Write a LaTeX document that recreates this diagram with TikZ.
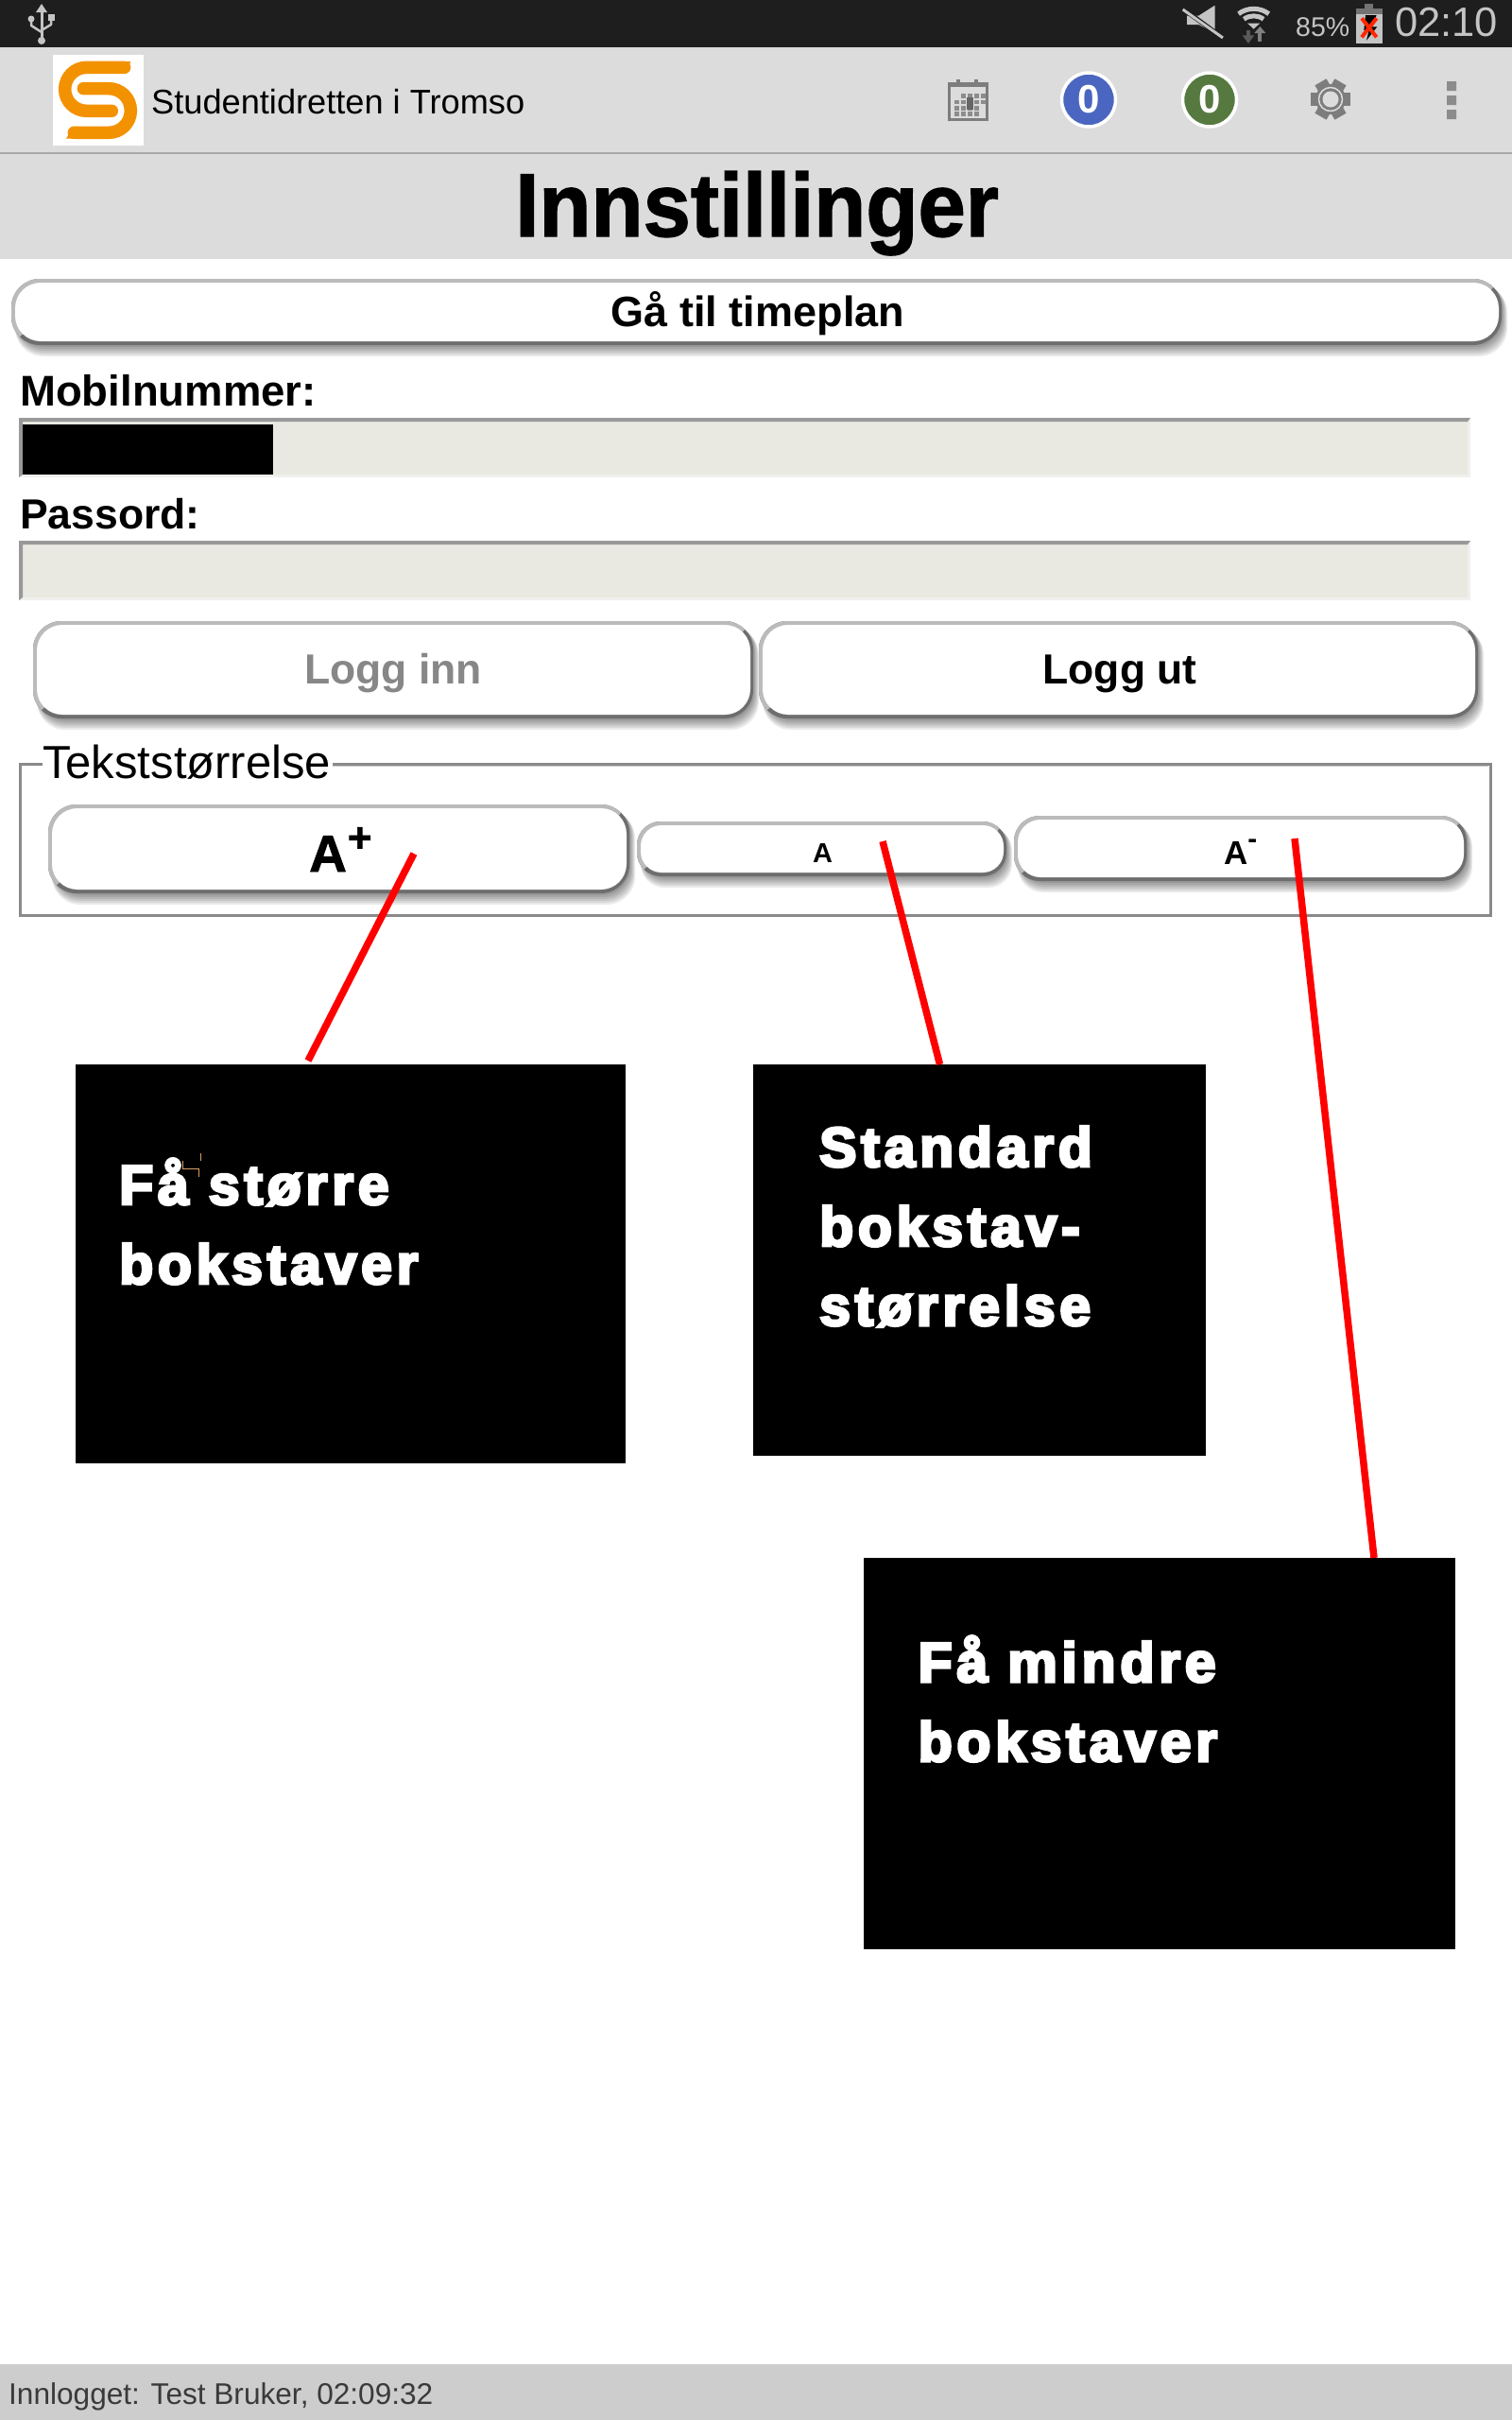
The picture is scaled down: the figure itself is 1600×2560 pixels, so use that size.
\documentclass[tikz,border=0pt]{standalone}
\usepackage{fontspec}
\setmainfont{Liberation Sans}
\newfontfamily\blk[BoldFeatures={FakeBold=5,LetterSpace=8}]{Liberation Sans}
\newfontfamily\uib[BoldFeatures={FakeBold=1.5}]{Liberation Sans}
\usepackage{graphicx}
\definecolor{statusbg}{HTML}{1E1E1E}
\definecolor{barbg}{HTML}{DCDCDC}
\definecolor{barline}{HTML}{A8A8A8}
\definecolor{iconlight}{HTML}{C4C4C4}
\definecolor{icongray}{HTML}{7D7D7D}
\definecolor{inputbg}{HTML}{E9E9E1}
\definecolor{inputtop}{HTML}{999999}
\definecolor{inputedge}{HTML}{F0F0EE}
\definecolor{btnlight}{HTML}{BBBBBB}
\definecolor{btndark}{HTML}{6E6E6E}
\definecolor{logoorange}{HTML}{F39200}
\definecolor{footbg}{HTML}{CDCDCD}
\definecolor{foottxt}{HTML}{3A3A3A}
\definecolor{badgeblue}{HTML}{4A66C0}
\definecolor{badgegreen}{HTML}{55793F}
\definecolor{fieldline}{HTML}{8A8A8A}
\newcommand{\fsz}[1]{\fontsize{#1}{#1}\selectfont}
\newcommand{\uibtn}[5]{%
  \foreach \d in {1,...,6}{\fill[black,opacity=.08,rounded corners=#5pt] ({#1+4},{#2+\d}) rectangle ({#3+\d},{#4+2*\d});}
  \fill[btndark,rounded corners=#5pt] (#1,#2) rectangle (#3,#4);
  \begin{scope}
    \clip (#1,#2) -- (#3,#2) -- ({#3-#5},{#2+#5}) -- ({#1+#5},{#4-#5}) -- (#1,#4) -- cycle;
    \fill[btnlight,rounded corners=#5pt] (#1,#2) rectangle (#3,#4);
  \end{scope}
  \fill[white,rounded corners={#5pt-3pt}] ({#1+4},{#2+4}) rectangle ({#3-3},{#4-4});
}
\tikzset{
  lbl/.style={inner sep=0pt,anchor=base west},
  clbl/.style={inner sep=0pt,anchor=base},
  redline/.style={draw=red,line width=7.5pt},
  blackbox/.style={fill=black,draw=none,inner sep=0pt,anchor=north west},
  boxtxt/.style={lbl,text=white,font=\blk\bfseries\fsz{59}},
}
\begin{document}
\begin{tikzpicture}[x=1pt,y=-1pt]
\useasboundingbox (0,0) rectangle (1600,2560);
\fill[white] (0,0) rectangle (1600,2560);
% bars
\fill[statusbg] (0,0) rectangle (1600,50);
\fill[barbg] (0,50) rectangle (1600,274);
\fill[barline] (0,161) rectangle (1600,163);
% USB icon
\begin{scope}[iconlight]
  \fill (38,13) -- (50,13) -- (44,4) -- cycle;
  \draw[line width=3pt] (44,12) -- (44,42);
  \fill (44,43) circle (4);
  \fill (33,20) circle (3.5);
  \draw[line width=2.5pt,line join=round] (33,20) -- (33,27) -- (44,34);
  \fill (50.5,15) rectangle (58,22);
  \draw[line width=2.5pt,line join=round] (54,20) -- (54,26) -- (44,32);
\end{scope}
% status right
\begin{scope}[xshift=1240pt,x=.3333pt,y=-.3333pt]
  \fill[iconlight] (137,17) -- (137,105) -- (85,78) -- (48,78) -- (48,50) -- (85,50) -- cycle;
  \draw[statusbg,line width=5pt] (25,20) -- (150,112);
  \draw[iconlight,line width=3pt] (35,30) -- (162,120);
  \foreach \r/\w in {68/5,44/5}{
    \draw[iconlight,line width=\w pt] ({260-\r*.707},{92-\r*.707}) .. controls ({260-\r*.3},{92-\r*1.02}) and ({260+\r*.3},{92-\r*1.02}) .. ({260+\r*.707},{92-\r*.707});
  }
  \fill[iconlight] (245,78) -- (275,78) -- (260,92) -- cycle;
  \fill[iconlight] (240,74) -- (280,74) -- (275,78) -- (245,78) -- cycle;
  \fill[black!65] (224,112) -- (262,112) -- (243,138) -- cycle;
  \fill[black!65] (237,95) rectangle (249,114);
  \fill[black!50] (262,105) -- (298,105) -- (280,84) -- cycle;
  \fill[black!50] (274,104) rectangle (286,132);
  \fill[iconlight] (585,45) rectangle (668,137);
  \fill[black!55] (585,27) rectangle (668,45);
  \fill[black!55] (612,13) rectangle (640,27);
  \fill[black] (615,48) -- (650,48) -- (636,85) -- (652,85) -- (618,128) -- (626,96) -- (610,96) -- cycle;
  \draw[red!70!orange,line width=4pt] (603,58) -- (650,118) (650,58) -- (603,118);
\end{scope}
\node[lbl,text=iconlight,font=\fsz{28.5}] (batt) at (1371,38) {85\%};
\node[lbl,text=iconlight,font=\fsz{43.5}] (clock) at (1476,38) {02:10};
% logo
\fill[white] (56,58) rectangle (152,154);
\begin{scope}[xshift=50pt,yshift=-55pt,x=.3333pt,y=-.3333pt]
  \draw[logoorange,line width=13.5pt,line cap=round] (245,49) -- (125,49) .. controls (87,49) and (56,80) .. (56,118) .. controls (56,156) and (87,187) .. (125,187) -- (205,187);
  \fill[logoorange] (235,30) -- (265,30) -- (250,68) -- (235,68) -- cycle;
  \draw[logoorange,line width=13.5pt,line cap=round] (115,116) -- (195,116) .. controls (234,116) and (265,147) .. (265,186) .. controls (265,225) and (234,256) .. (195,256) -- (85,256);
  \fill[logoorange] (82,237) -- (100,237) -- (100,275) -- (60,275) -- cycle;
\end{scope}
\node[lbl,font=\fsz{36.2}] (app) at (160,120) {Studentidretten i Tromso};
% action icons
\draw[icongray,line width=3pt] (1004.5,90) rectangle (1044.5,126);
\fill[icongray] (1003,87) rectangle (1046,92);
\fill[icongray] (1012,84) rectangle (1016,92);
\fill[icongray] (1031,84) rectangle (1035,92);
\foreach \cx in {1010,1017,1024,1031,1038}{\foreach \cy in {99,105.5,112,118}{
  \fill[black!45] (\cx,\cy) rectangle ++(4.5,4.5);}}
\fill[black!60] (1023,103) rectangle (1030,116);
\fill[barbg] (1008,98) rectangle (1015,104);
\fill[barbg] (1037,112) rectangle (1044,124);
\draw[icongray,line width=3pt] (1004.5,90) rectangle (1044.5,126);
\node[circle,fill=badgeblue,draw=white,line width=3.5pt,minimum size=57pt,inner sep=0pt,text=white,font=\bfseries\fsz{42}] (bdg1) at (1152,105.5) {0};
\node[circle,fill=badgegreen,draw=white,line width=3.5pt,minimum size=57pt,inner sep=0pt,text=white,font=\bfseries\fsz{42}] (bdg2) at (1280,105.5) {0};
\fill[icongray] (1408,105) circle (16);
\foreach \a in {30,90,150,210,270,330}{
  \fill[icongray,rotate around={\a:(1408,105)}] (1401,105) rectangle (1415,84);
}
\draw[barbg,line width=1.5pt] (1408,105) circle (12.5);
\fill[barbg] (1408,105) circle (8.5);
\fill[black!45] (1531,86) rectangle (1541,96) (1531,101) rectangle (1541,111) (1531,116) rectangle (1541,126);
% title
\node[clbl,font=\uib\bfseries\fsz{95}] (title) at (801,250) {\scalebox{.95}[1]{Innstillinger}};
% schedule button
\uibtn{12}{295}{1589}{365}{30}
\node[clbl,font=\bfseries\fsz{45}] (plan) at (802,345) {Gå til timeplan};
% inputs
\node[lbl,font=\bfseries\fsz{45.5}] (mob) at (21,429) {Mobilnummer:};
\foreach \yy in {442,572}{
  \fill[inputedge] (20,\yy) rectangle (1556,{\yy+63});
  \fill[inputbg] (24,{\yy+4}) rectangle (1553,{\yy+60});
  \fill[inputtop] (20,\yy) -- (1556,\yy) -- (1553,{\yy+4}) -- (24,{\yy+4}) -- (24,{\yy+60}) -- (20,{\yy+63}) -- cycle;
}
\fill[black] (24,449) rectangle (289,502);
\node[lbl,font=\bfseries\fsz{44.5}] (pwd) at (21,559) {Passord:};
% login buttons
\uibtn{35}{657}{797}{760}{30}
\node[clbl,text=black!47,font=\bfseries\fsz{44.5}] (login) at (416,723) {Logg inn};
\uibtn{803}{657}{1564}{760}{30}
\node[clbl,font=\bfseries\fsz{44.5}] (logout) at (1185,723) {Logg ut};
% fieldset
\draw[fieldline,line width=3pt] (45,808) -- (21,808) -- (21,968) -- (1577,968) -- (1577,808) -- (352,808);
\draw[black!20,line width=1.5pt] (352,810.5) -- (1575,810.5);
\node[lbl,font=\fsz{49}] (legend) at (45,823) {Tekststørrelse};
% size buttons
\uibtn{51}{851}{666}{945}{30}
\node[lbl,font=\uib\bfseries\fsz{55}] (aplus) at (327,922) {A\kern1pt\raisebox{21pt}{\fsz{44}+}};
\uibtn{674}{869}{1065}{927}{25}
\node[lbl,font=\bfseries\fsz{29}] (anorm) at (860,912) {A};
\uibtn{1073}{863}{1552}{932}{27}
\node[lbl,font=\bfseries\fsz{35}] (aminus) at (1295,914) {A\raisebox{17pt}{\fsz{30}-}};
% annotation boxes
\node[blackbox,minimum width=582pt,minimum height=422pt] (box1) at (80,1126) {};
\node[blackbox,minimum width=478.5pt,minimum height=414pt] (box2) at (797,1126) {};
\node[blackbox,minimum width=626pt,minimum height=414pt] (box3) at (914,1648) {};
\node[boxtxt] (t1a) at (126,1274) {Få større};
\node[boxtxt] (t1b) at (126,1358) {bokstaver};
\node[boxtxt] (t2a) at (867,1234) {Standard};
\node[boxtxt] (t2b) at (867,1318) {bokstav-};
\node[boxtxt] (t2c) at (867,1402) {størrelse};
\node[boxtxt] (t3a) at (971.5,1779) {Få mindre};
\node[boxtxt] (t3b) at (971.5,1863) {bokstaver};
\draw[black!25!orange!60!white,line width=.7pt] (193,1228) -- (193,1236) -- (210,1236) -- (210,1245) (212.5,1220) -- (212.5,1228);
% connectors
\coordinate (s1) at (438,903);
\coordinate (e1) at (326,1122);
\coordinate (s2) at (934,890);
\coordinate (e2) at (994.5,1126);
\coordinate (s3) at (1370,887);
\coordinate (e3) at (1454,1648);
\draw[redline] (s1) -- (e1);
\draw[redline] (s2) -- (e2);
\draw[redline] (s3) -- (e3);
% footer
\fill[footbg] (0,2501) rectangle (1600,2560);
\node[lbl,text=foottxt,font=\fsz{31.6}] (foot) at (9,2543) {Innlogget: Test Bruker, 02:09:32};
\end{tikzpicture}
\end{document}
